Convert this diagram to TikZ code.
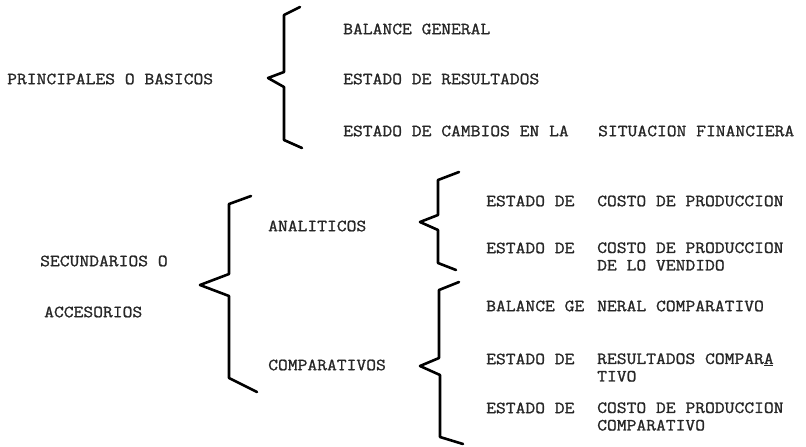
\documentclass[tikz,border=0pt]{standalone}
\usepackage{fontspec}
\setmonofont{Latin Modern Mono}[FakeStretch=1.12,FakeBold=1.2]
\begin{document}
\begin{tikzpicture}[x=1pt,y=-1pt,
  lbl/.style={anchor=west,inner sep=0pt,align=left,font=\ttfamily\fontsize{17}{17.5}\selectfont,text=black!85},
  brace/.style={line width=2.6pt,line join=round,line cap=round,black}]
\useasboundingbox (0,0) rectangle (806,447);
% top group
\node[lbl] (pb) at (7,79) {PRINCIPALES O BASICOS};
\node[lbl] (bg) at (343,29) {BALANCE GENERAL};
\node[lbl] (er) at (343,79) {ESTADO DE RESULTADOS};
\node[lbl] (ec) at (343,131) {ESTADO DE CAMBIOS EN LA\ \ \ SITUACION FINANCIERA};
\draw[brace] (300,7) -- (284,15) -- (284,72) -- (268,78) -- (284,87) -- (284,140) -- (302,148);
% secondary group
\node[lbl] (sec) at (40,261) {SECUNDARIOS O};
\node[lbl] (acc) at (44,312) {ACCESORIOS};
\node[lbl] (ana) at (268,226) {ANALITICOS};
\node[lbl] (com) at (268,365) {COMPARATIVOS};
\draw[brace] (251,196) -- (229,204) -- (229,274) -- (200,285) -- (229,296) -- (229,378) -- (257,392);
% analiticos
\node[lbl] (a1a) at (486,201) {ESTADO DE};
\node[lbl] (a1b) at (597,201) {COSTO DE PRODUCCION};
\node[lbl] (a2a) at (486,248) {ESTADO DE};
\node[lbl] (a2b) at (597,256.5) {COSTO DE PRODUCCION\\DE LO VENDIDO};
\draw[brace] (459,172) -- (438,180) -- (438,215) -- (420,222) -- (438,230) -- (438,263) -- (456,270);
% comparativos
\node[lbl] (c1a) at (486,306) {BALANCE GE};
\node[lbl] (c1b) at (597,306) {NERAL COMPARATIVO};
\node[lbl] (c2a) at (486,359) {ESTADO DE};
\node[lbl] (c2b) at (597,367.5) {RESULTADOS COMPARA\rlap{\kern-0.58em\rule[-2.5pt]{0.55em}{1.2pt}}\\TIVO};
\node[lbl] (c3a) at (486,408) {ESTADO DE};
\node[lbl] (c3b) at (597,416.5) {COSTO DE PRODUCCION\\COMPARATIVO};
\draw[brace] (459,282) -- (439,290) -- (439,358) -- (420,366) -- (440,375) -- (440,437) -- (463,444);
\end{tikzpicture}
\end{document}
